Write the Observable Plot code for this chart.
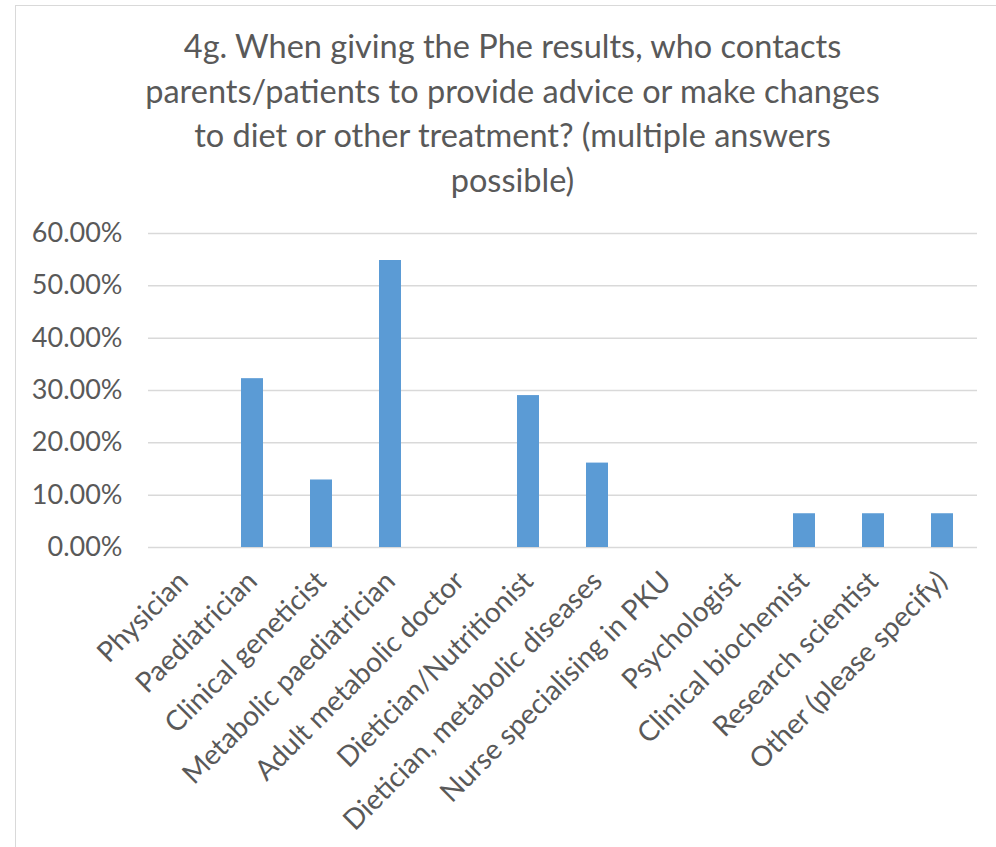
<!DOCTYPE html>
<html>
<head>
<meta charset="utf-8">
<script src="https://cdn.jsdelivr.net/npm/d3@7"></script>
<script src="https://cdn.jsdelivr.net/npm/@observablehq/plot@0.6"></script>
<style>
  html, body { margin: 0; padding: 0; background: #fff; }
  #wrap { position: relative; width: 996px; height: 847px; overflow: hidden; font-family: Lato, "Open Sans", sans-serif; }
  #frame { position: absolute; left: 15px; top: 5px; width: 1100px; height: 1000px; border: 1.5px solid #d9d9d9; box-sizing: border-box; }
  #title { position: absolute; left: 0; width: 1025px; top: 24px; text-align: center; font-size: 32.5px; line-height: 44.5px; color: #595959; }
  #chart { position: absolute; left: 0; top: 0; }
</style>
</head>
<body>
<div id="wrap">
  <div id="frame"></div>
  <div id="chart"></div>
  <div id="title">4g. When giving the Phe results, who contacts<br>parents/patients to provide advice or make changes<br>to diet or other treatment? (multiple answers<br>possible)</div>
</div>
<script>
const categories = [
  "Physician",
  "Paediatrician",
  "Clinical geneticist",
  "Metabolic paediatrician",
  "Adult metabolic doctor",
  "Dietician/Nutritionist",
  "Dietician, metabolic diseases",
  "Nurse specialising in PKU",
  "Psychologist",
  "Clinical biochemist",
  "Research scientist",
  "Other (please specify)"
];
const values = [0, 0.3226, 0.1290, 0.5484, 0, 0.2903, 0.1613, 0, 0, 0.0645, 0.0645, 0.0645];
const yTicks = [0, 0.1, 0.2, 0.3, 0.4, 0.5, 0.6];

const data = categories.map((c, i) => ({category: c, value: values[i]}));

const plot = Plot.plot({
  width: 996,
  height: 847,
  marginTop: 233,
  marginBottom: 300,
  marginLeft: 148,
  marginRight: 19,
  style: {fontFamily: "Lato, 'Open Sans', sans-serif", color: "#595959", background: "transparent"},
  x: {domain: categories, paddingInner: 0.68, paddingOuter: 0.34, label: null},
  y: {domain: [0, 0.6], label: null},
  marks: [
    Plot.gridY(yTicks, {stroke: "#d9d9d9", strokeOpacity: 1, strokeWidth: 1.5}),
    Plot.barY(data, {x: "category", y: "value", fill: "#5b9bd5"}),
    Plot.axisY(yTicks, {tickFormat: d3.format(".2%"), tickSize: 0, tickPadding: 26, fontSize: 27, fill: "#595959", label: null}),
    Plot.axisX({tickSize: 0, tickPadding: 29, tickRotate: -45, fontSize: 28, fill: "#595959", label: null})
  ]
});
document.getElementById("chart").appendChild(plot);
</script>
</body>
</html>
